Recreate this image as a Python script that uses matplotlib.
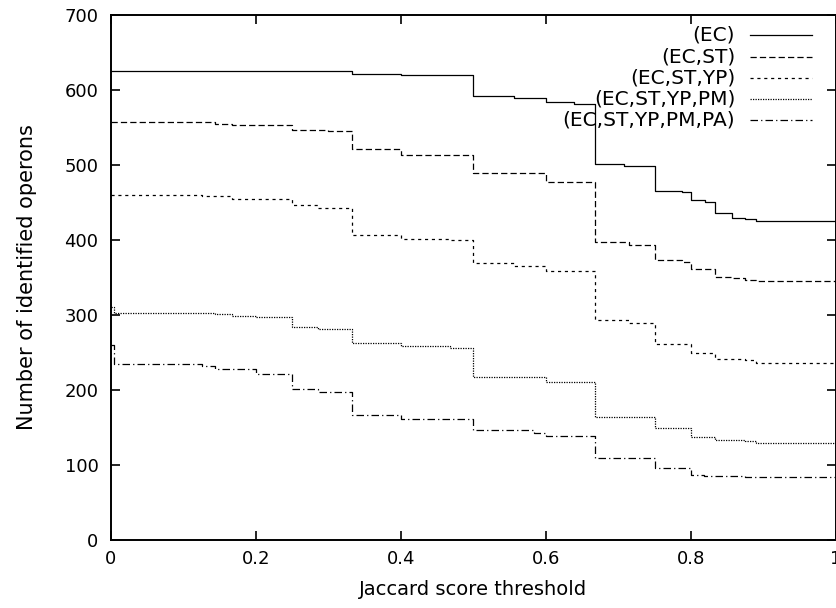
import numpy as np
import matplotlib.pyplot as plt

plt.rcParams['font.family'] = ['DejaVu Sans']
plt.rcParams['font.size'] = 13

# Jaccard thresholds (step starts) and number of operons found at/above them
x_ec = [0, 0.333, 0.4, 0.5, 0.556, 0.6, 0.638, 0.667, 0.707, 0.75, 0.787, 0.8,
        0.819, 0.833, 0.857, 0.875, 0.889, 1.0]
y_ec = [625, 622, 620, 592, 590, 584, 581, 501, 499, 465, 464, 453,
        451, 436, 430, 428, 426, 426]

x_st = [0, 0.143, 0.167, 0.25, 0.3, 0.333, 0.4, 0.5, 0.6, 0.667, 0.714, 0.75,
        0.787, 0.8, 0.833, 0.857, 0.875, 0.889, 1.0]
y_st = [557, 555, 553, 547, 545, 522, 514, 490, 478, 398, 394, 374,
        371, 361, 351, 350, 347, 345, 345]

x_yp = [0, 0.125, 0.167, 0.25, 0.286, 0.333, 0.4, 0.467, 0.5, 0.556, 0.6, 0.667,
        0.714, 0.75, 0.8, 0.818, 0.833, 0.875, 0.889, 1.0]
y_yp = [460, 459, 455, 447, 443, 407, 402, 400, 370, 366, 359, 293,
        289, 262, 250, 249, 242, 240, 236, 236]

x_pm = [0, 0.004, 0.143, 0.167, 0.2, 0.25, 0.286, 0.333, 0.4, 0.467, 0.5, 0.6,
        0.667, 0.75, 0.8, 0.833, 0.875, 0.889, 1.0]
y_pm = [311, 303, 301, 299, 297, 284, 282, 263, 259, 256, 217, 211,
        164, 150, 137, 134, 132, 130, 130]

x_pa = [0, 0.004, 0.125, 0.143, 0.2, 0.25, 0.286, 0.333, 0.4, 0.5, 0.583, 0.6,
        0.667, 0.75, 0.8, 0.818, 0.875, 1.0]
y_pa = [260, 235, 232, 228, 222, 201, 198, 167, 161, 147, 143, 139,
        109, 96, 87, 85, 84, 84]

labels = ['(EC)', '(EC,ST)', '(EC,ST,YP)', '(EC,ST,YP,PM)', '(EC,ST,YP,PM,PA)']
series = [(x_ec, y_ec), (x_st, y_st), (x_yp, y_yp), (x_pm, y_pm), (x_pa, y_pa)]
dashes = [None, (5, 2.5), (2.5, 3), (1, 1), (6, 2.5, 1, 2.5)]

fig = plt.figure(figsize=(8.37, 6.08), dpi=100)
ax = fig.add_axes([0.1326, 0.1118, 0.8662, 0.8635])

for (xs, ys), d, lab in zip(series, dashes, labels):
    line, = ax.step(xs, ys, where='post', color='black', lw=0.9, label=lab)
    if d is not None:
        line.set_dashes(d)

ax.set_xlim(0, 1)
ax.set_ylim(0, 700)
ax.set_xticks([0, 0.2, 0.4, 0.6, 0.8, 1.0])
ax.set_xticklabels(['0', '0.2', '0.4', '0.6', '0.8', '1'])
ax.set_yticks(np.arange(0, 701, 100))
ax.tick_params(direction='in', length=6.5, width=1.2, top=True, right=True)
ax.tick_params(axis='x', pad=7)
ax.tick_params(axis='y', pad=9)
for s in ax.spines.values():
    s.set_linewidth(1.4)

ax.set_xlabel('Jaccard score threshold', fontsize=14, labelpad=9)
ax.set_ylabel('Number of identified operons', fontsize=15, labelpad=20)

# legend drawn by hand: right-aligned labels with samples on the right
row_y = [0.962, 0.920, 0.880, 0.840, 0.800]
for lab, d, yy in zip(labels, dashes, row_y):
    ax.text(0.861, yy, lab, transform=ax.transAxes, ha='right', va='center',
            fontsize=14.5)
    ln, = ax.plot([0.881, 0.967], [yy, yy], transform=ax.transAxes,
                  color='black', lw=0.9)
    if d is not None:
        ln.set_dashes(d)

fig.savefig('out.png', dpi=100)
